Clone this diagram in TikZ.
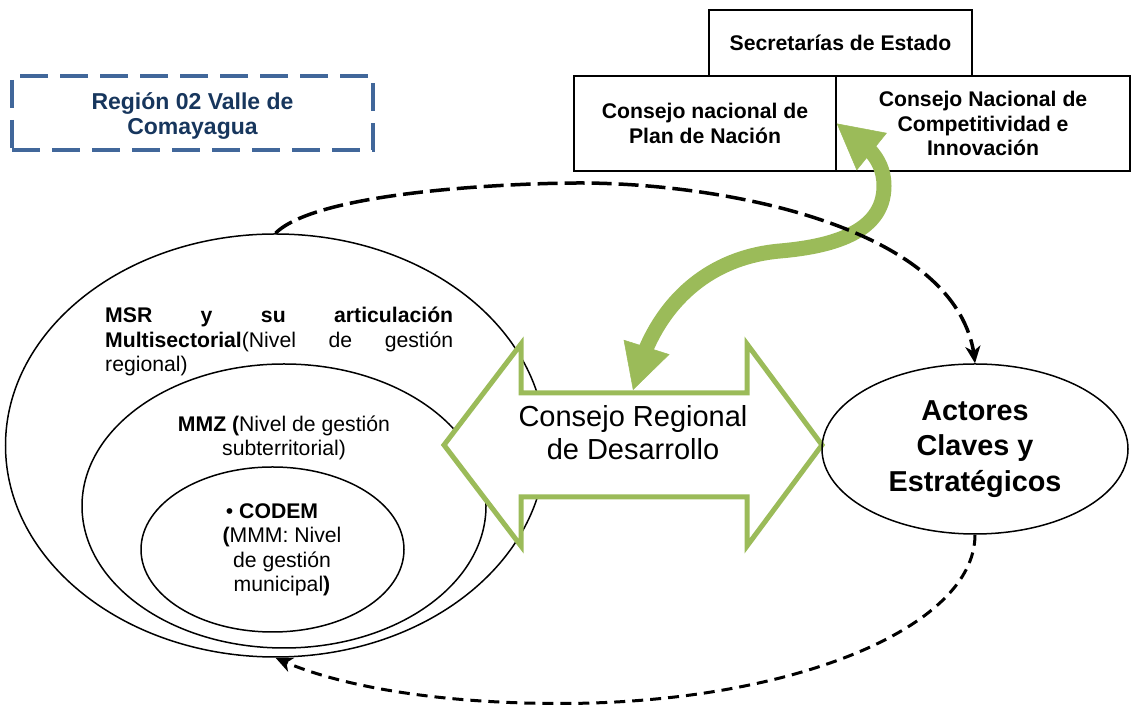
\documentclass[tikz,border=0pt]{standalone}
\usepackage{fontspec}
\setmainfont{Liberation Sans}
\usetikzlibrary{shapes.geometric,arrows.meta,bending}

\definecolor{olivegreen}{HTML}{9BBB59}
\definecolor{dashblue}{HTML}{41679A}
\definecolor{navytext}{HTML}{17365D}

\newcommand{\normtxt}{\fontsize{21.2}{24.5}\selectfont}
\newcommand{\bigtxt}{\fontsize{29}{33}\selectfont}

\tikzset{
  box/.style={rectangle,draw,line width=1.5,minimum height=95,align=center,font=\normtxt\bfseries},
  ring/.style={ellipse,draw,line width=1.5,inner sep=0},
  flow/.style={line width=3.5,-{Stealth[length=17pt,width=15pt,inset=5pt]}},
  bigtip/.tip={Triangle[length=45pt,width=48pt,line width=0.5pt,flex]}
}

\begin{document}
\begin{tikzpicture}[x=1pt,y=1pt]
  \useasboundingbox (0,0) rectangle (1133,706);

  % Region label
  \draw (192.5,593) node(reg) [rectangle,draw=dashblue,line width=3.5,dash pattern=on 28pt off 12pt,minimum width=361,minimum height=74,align=center,text=navytext,font=\fontsize{23}{25}\selectfont\bfseries] {\rule{0pt}{23pt}Región 02 Valle de\\Comayagua};

  % National level
  \draw (840.5,663) node(sec) [box,minimum width=263,minimum height=66] {Secretarías de Estado};
  \draw (705,582.5) node(cnp) [box,minimum width=262] {Consejo nacional de\\Plan de Nación};
  \draw (983,582.5) node(cnc) [box,minimum width=294] {Consejo Nacional de\\Competitividad e\\Innovación};

  % Nested levels
  \draw (275.5,260.5) node(msr)   [ring,minimum width=540,minimum height=423] {};
  \draw (284,200)     node(mmz)   [ring,minimum width=404,minimum height=284] {};
  \draw (272.5,156.5) node(codem) [ring,minimum width=263,minimum height=165] {};

  \draw (105,383) node(msrtxt) [anchor=base west,inner sep=0,text width=348,align=left,font=\normtxt] {\leavevmode\hbox to 348pt{\textbf{MSR}\hfill\textbf{y}\hfill\textbf{su}\hfill\textbf{articulación}}\\\leavevmode\hbox to 348pt{\textbf{Multisectorial}(Nivel\hfill de\hfill gestión}\\regional)};
  \draw (284,268) node(mmztxt) [align=center,font=\normtxt] {\textbf{MMZ (}Nivel de gestión\\subterritorial)};
  \draw (282,156) node(codemtxt) [align=center,font=\normtxt] {\textbullet\ \textbf{CODEM}\kern20pt\\\textbf{(}MMM: Nivel\\de gestión\\municipal\textbf{)}};

  % Regional council
  \draw[olivegreen,line width=5,fill=white] (444,261) -- (521,362) -- (521,313) -- (747,313) -- (747,362)
    -- (822,261) -- (747,160) -- (747,209) -- (521,209) -- (521,160) -- cycle;
  \draw (633,273) node(crd) [align=center,font=\bigtxt] {Consejo Regional\\de Desarrollo};
  \coordinate (crdtop) at (633,316);

  % Actors
  \draw (975,257) node(act) [ring,minimum width=306,minimum height=170,align=center,font=\fontsize{28.8}{35.5}\selectfont\bfseries] {Actores\\Claves y\\Estratégicos};

  % Edges
  \draw[olivegreen,line width=15,bigtip-bigtip] (crdtop) to[out=78,in=185] (780,455) to[out=5,in=-90] (884,520) to[out=90,in=-36] (cnp.east);
  \draw[flow,dash pattern=on 20pt off 7pt] (msr.north) to[out=45,in=180,looseness=0.5] (580,523) .. controls (720,523) and (965,480) .. (act.north);
  \draw[flow,line width=3,dash pattern=on 11pt off 7pt] (act.south) .. controls (975,78) and (790,2.5) .. (560,2.5) .. controls (430,2.5) and (330,22) .. (msr.south);
\end{tikzpicture}
\end{document}
